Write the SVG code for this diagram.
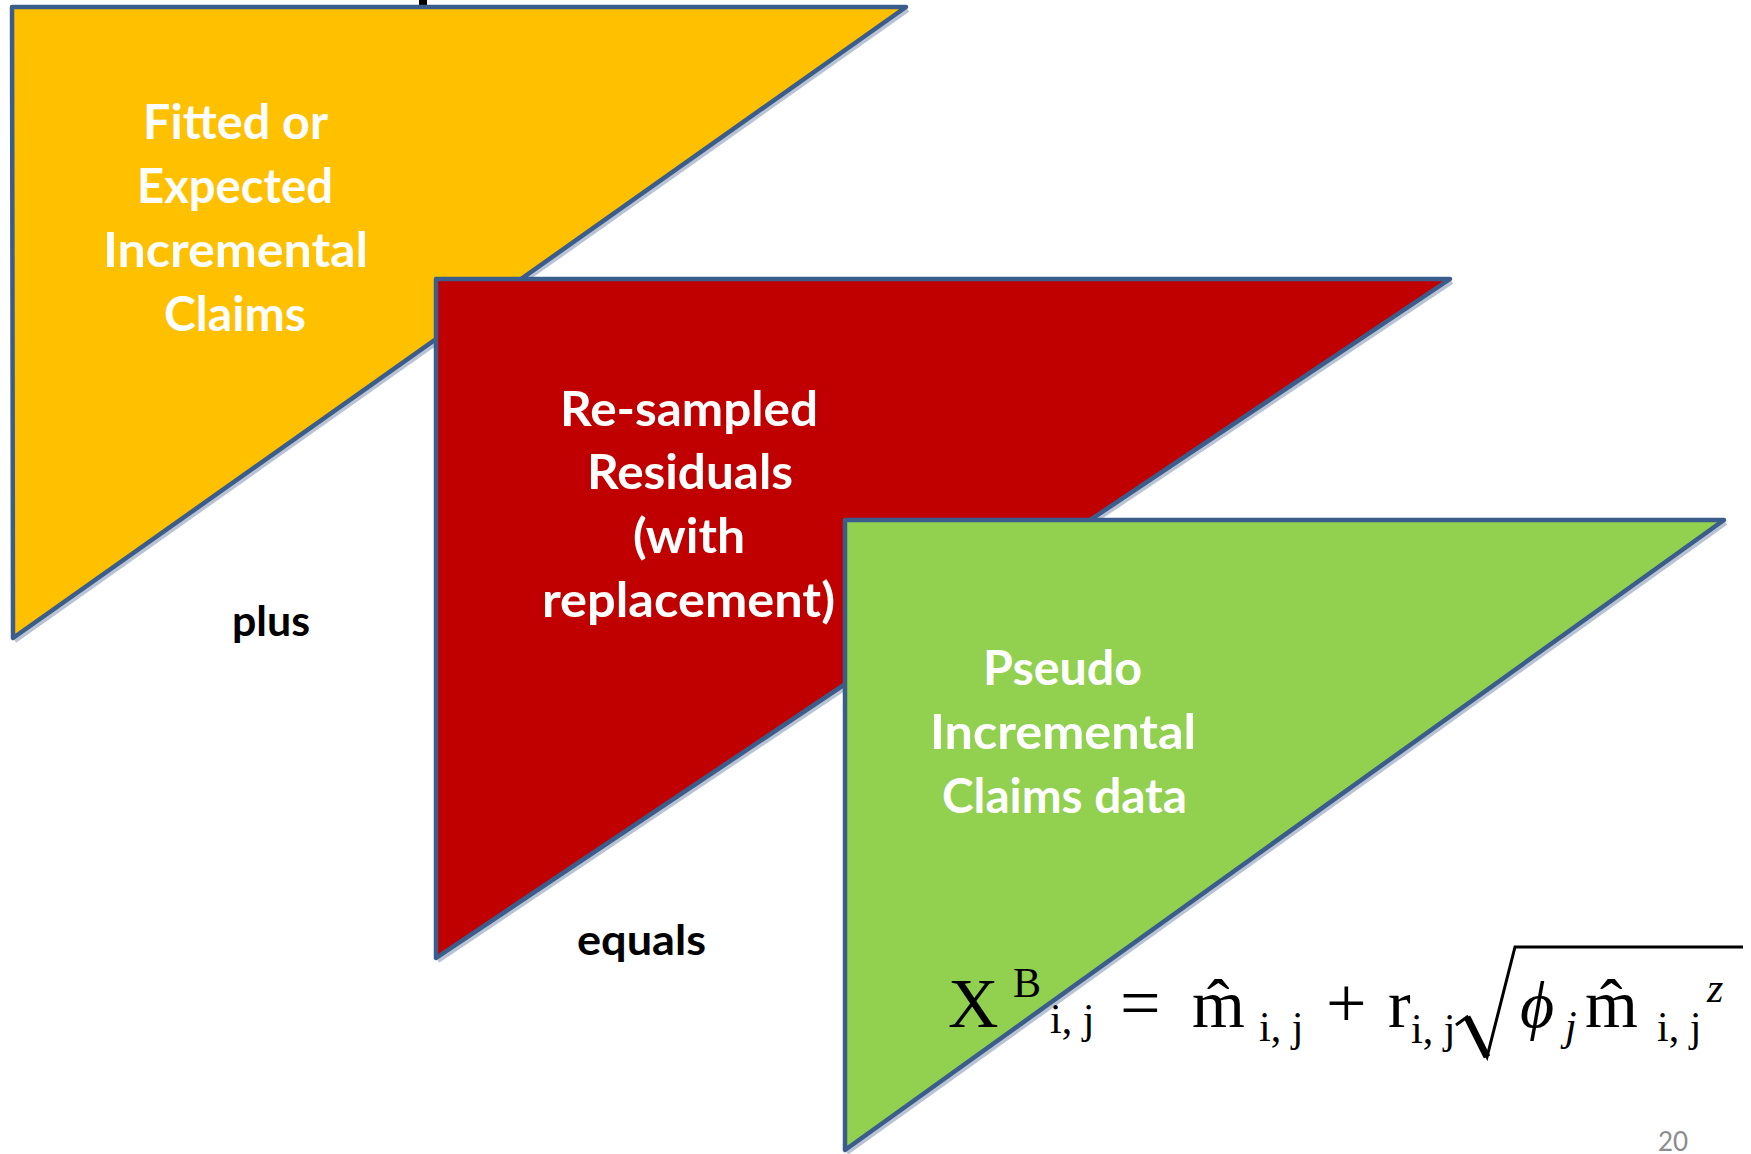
<svg xmlns="http://www.w3.org/2000/svg" width="1751" height="1154" viewBox="0 0 1751 1154">
<style>
.tri{stroke:#3A5D8B;stroke-width:4.5;stroke-linejoin:round}
.shadow{fill:none;stroke:#8A9BB5;stroke-width:4;opacity:0.6}
.lbl{font-family:Lato,"Open Sans","Liberation Sans",sans-serif;font-weight:bold;fill:#FFFFFF;font-size:47px;text-anchor:middle}
.op{font-family:Lato,"Open Sans","Liberation Sans",sans-serif;font-weight:bold;fill:#000000;font-size:42px;text-anchor:middle}
.m{font-family:"Liberation Serif","DejaVu Serif",serif;fill:#000000}
.mi{font-family:"Liberation Serif","DejaVu Serif",serif;font-style:italic;fill:#000000}
</style>
<rect width="1751" height="1154" fill="#FFFFFF"/>
<rect x="419" y="0" width="8" height="6" fill="#000000"/>

<g id="fitted">
<line class="shadow" x1="908" y1="10" x2="15" y2="641"/>
<polygon class="tri" points="12,7 906,7 13,638" fill="#FFC000"/>
<text class="lbl" x="235.5" y="139" textLength="185" lengthAdjust="spacingAndGlyphs">Fitted or</text>
<text class="lbl" x="235" y="203" textLength="196" lengthAdjust="spacingAndGlyphs">Expected</text>
<text class="lbl" x="235.5" y="267" textLength="265" lengthAdjust="spacingAndGlyphs">Incremental</text>
<text class="lbl" x="235" y="331" textLength="142" lengthAdjust="spacingAndGlyphs">Claims</text>
</g>

<g id="residuals">
<line class="shadow" x1="1452" y1="282" x2="438" y2="961"/>
<polygon class="tri" points="436,279 1450,279 436,958" fill="#C00000"/>
<text class="lbl" x="689" y="426" textLength="258" lengthAdjust="spacingAndGlyphs">Re-sampled</text>
<text class="lbl" x="690" y="489" textLength="206" lengthAdjust="spacingAndGlyphs">Residuals</text>
<text class="lbl" x="689" y="553" textLength="112" lengthAdjust="spacingAndGlyphs">(with</text>
<text class="lbl" x="688.5" y="617" textLength="293" lengthAdjust="spacingAndGlyphs">replacement)</text>
</g>

<g id="pseudo">
<line class="shadow" x1="1726" y1="523" x2="847" y2="1153"/>
<polygon class="tri" points="845,520 1724,520 845,1150" fill="#92D050"/>
<text class="lbl" x="1062.5" y="685" textLength="159" lengthAdjust="spacingAndGlyphs">Pseudo</text>
<text class="lbl" x="1063" y="749" textLength="266" lengthAdjust="spacingAndGlyphs">Incremental</text>
<text class="lbl" x="1064.5" y="813" textLength="245" lengthAdjust="spacingAndGlyphs">Claims data</text>
</g>

<g id="connectors">
<text class="op" x="271" y="636" textLength="78" lengthAdjust="spacingAndGlyphs">plus</text>
<text class="op" x="641.5" y="955" textLength="129" lengthAdjust="spacingAndGlyphs">equals</text>
</g>

<g id="formula">
<text class="m" x="948" y="1027" font-size="70">X</text>
<text class="m" x="1013" y="997" font-size="42">B</text>
<text class="m" x="1050" y="1033" font-size="42">i, j</text>
<text class="m" x="1120" y="1027" font-size="72">=</text>
<text class="m" x="1192" y="1027" font-size="68">m̂</text>
<text class="m" x="1259" y="1041" font-size="42">i, j</text>
<text class="m" x="1326" y="1027" font-size="72">+</text>
<text class="m" x="1388" y="1027" font-size="68">r</text>
<text class="m" x="1411" y="1043" font-size="42">i, j</text>
<path d="M1456,1025 L1467,1017 L1487,1057 L1515,947 L1743,947" fill="none" stroke="#000000" stroke-width="3" stroke-linejoin="miter"/>
<path d="M1467,1017 L1487,1057" fill="none" stroke="#000000" stroke-width="7"/>
<text class="mi" x="1520" y="1027" font-size="66">ϕ</text>
<text class="mi" x="1565" y="1040" font-size="42">j</text>
<text class="m" x="1585" y="1027" font-size="68">m̂</text>
<text class="m" x="1657" y="1041" font-size="42">i, j</text>
<text class="mi" x="1707" y="1002" font-size="42">z</text>
</g>

<text x="1658" y="1151" font-family="Lato,'Open Sans','Liberation Sans',sans-serif" font-size="26" fill="#8C8C8C">20</text>
</svg>
